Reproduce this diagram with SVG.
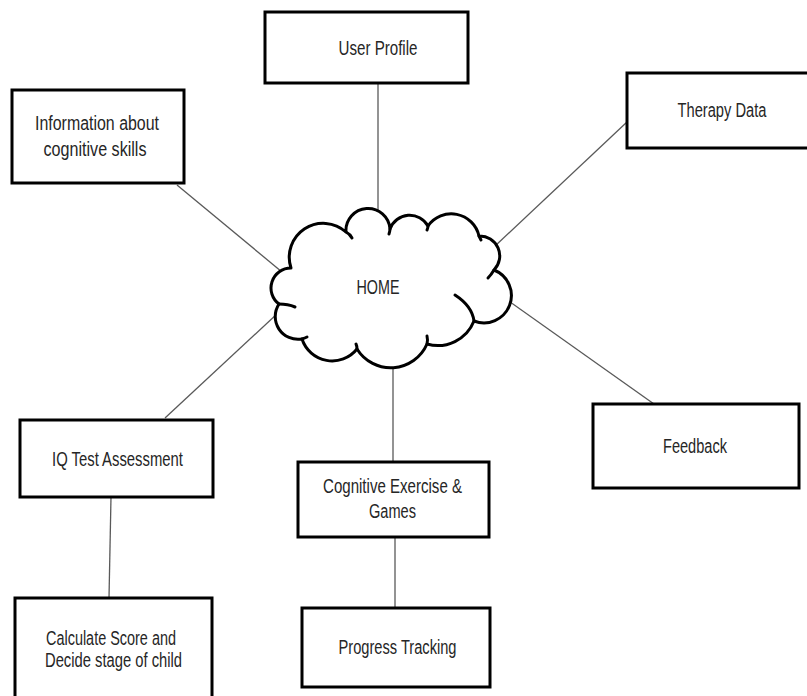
<svg xmlns="http://www.w3.org/2000/svg" width="807" height="696" viewBox="0 0 807 696">
<style>
.box{fill:#fff;stroke:#000;stroke-width:3}
.lbl{font-family:"Liberation Sans",Arial,sans-serif;font-size:19.5px;fill:#262626;text-anchor:middle}
.conn line{stroke:#595959;stroke-width:1.3}
.cloud{fill:#fff;stroke:#000;stroke-width:3;stroke-linejoin:round}
.curl{fill:none;stroke:#000;stroke-width:3;stroke-linecap:round}
</style>
<rect width="807" height="696" fill="#fff"/>
<g id="connectors" class="conn">
<line x1="378" y1="84" x2="378" y2="222"/>
<line x1="177" y1="185" x2="282" y2="272"/>
<line x1="627" y1="122" x2="494" y2="247"/>
<line x1="503" y1="297" x2="654" y2="404"/>
<line x1="165" y1="418" x2="278" y2="313"/>
<line x1="393" y1="355" x2="393" y2="462"/>
<line x1="111" y1="497" x2="109" y2="598"/>
<line x1="395" y1="537" x2="395" y2="608"/>
</g>
<g id="home">
<path class="cloud" d="M291,268 A34,34 0 0 1 346,232 A21,21 0 0 1 390,229 A21,21 0 0 1 428,226 A28.4,28.4 0 0 1 479,236 A20,20 0 0 1 494,270 A27,27 0 0 1 474,321 A39,39 0 0 1 427,344 A39.6,39.6 0 0 1 357,349 A31.8,31.8 0 0 1 302,339 A22.8,22.8 0 0 1 279,304 A20,20 0 0 1 291,268 Z"/>
<path class="curl" d="M346,232 Q350,234 352,238"/>
<path class="curl" d="M390,229 Q390,231 389,234"/>
<path class="curl" d="M428,226 Q428,228 427,230"/>
<path class="curl" d="M479,236 Q480,238 481,240"/>
<path class="curl" d="M494,270 Q491,275 488,278"/>
<path class="curl" d="M455,295 Q472,306 474,321"/>
<path class="curl" d="M427,344 Q428,340 427,336"/>
<path class="curl" d="M357,349 Q357,346 356,344"/>
<path class="curl" d="M302,339 Q305,338 307,337"/>
<path class="curl" d="M279,304 Q288,304 295,307"/>
<text class="lbl" x="378" y="294" textLength="43" lengthAdjust="spacingAndGlyphs">HOME</text>
</g>
<g id="user-profile">
<rect class="box" x="265" y="12" width="203" height="71"/>
<text class="lbl" x="378" y="55" textLength="79" lengthAdjust="spacingAndGlyphs">User Profile</text>
</g>
<g id="info-cognitive">
<rect class="box" x="12" y="90" width="172" height="93"/>
<text class="lbl" x="97" y="130" textLength="124" lengthAdjust="spacingAndGlyphs">Information about</text>
<text class="lbl" x="95" y="156" textLength="103" lengthAdjust="spacingAndGlyphs">cognitive skills</text>
</g>
<g id="therapy-data">
<rect class="box" x="627" y="73" width="190" height="75"/>
<text class="lbl" x="722" y="117" textLength="89" lengthAdjust="spacingAndGlyphs">Therapy Data</text>
</g>
<g id="feedback">
<rect class="box" x="593" y="404" width="206" height="84"/>
<text class="lbl" x="695" y="453" textLength="64" lengthAdjust="spacingAndGlyphs">Feedback</text>
</g>
<g id="iq-test">
<rect class="box" x="20" y="420" width="193" height="77"/>
<text class="lbl" x="117.5" y="466" textLength="131" lengthAdjust="spacingAndGlyphs">IQ Test Assessment</text>
</g>
<g id="calculate-score">
<rect class="box" x="15" y="598" width="197" height="110"/>
<text class="lbl" x="111" y="645" textLength="130" lengthAdjust="spacingAndGlyphs">Calculate Score and</text>
<text class="lbl" x="113.5" y="667" textLength="137" lengthAdjust="spacingAndGlyphs">Decide stage of child</text>
</g>
<g id="cognitive-exercise">
<rect class="box" x="298" y="462" width="191" height="75"/>
<text class="lbl" x="392.5" y="493" textLength="139" lengthAdjust="spacingAndGlyphs">Cognitive Exercise &amp;</text>
<text class="lbl" x="392.5" y="518" textLength="47" lengthAdjust="spacingAndGlyphs">Games</text>
</g>
<g id="progress-tracking">
<rect class="box" x="302" y="608" width="188" height="79"/>
<text class="lbl" x="397.5" y="654" textLength="118" lengthAdjust="spacingAndGlyphs">Progress Tracking</text>
</g>
</svg>
